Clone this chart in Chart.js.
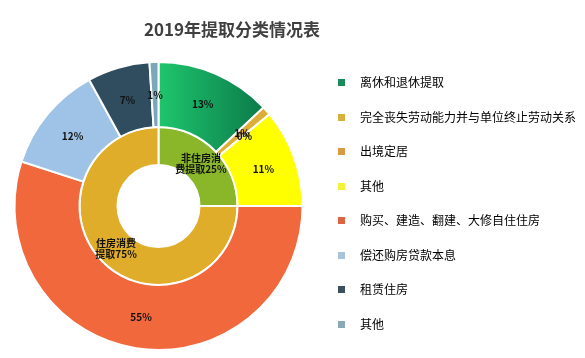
<!DOCTYPE html>
<html><head><meta charset="utf-8">
<script src="https://cdn.jsdelivr.net/npm/chart.js@4/dist/chart.umd.min.js"></script>
<style>
html,body{margin:0;padding:0;background:#fff;}
#wrap{position:relative;width:585px;height:358px;overflow:hidden;}
#title{position:absolute;left:0;width:464px;top:17px;text-align:center;font:bold 17px "Noto Sans CJK SC","Noto Sans",sans-serif;color:#404040;line-height:24px;}
canvas{position:absolute;left:0;top:0;}
</style></head><body>
<div id="wrap"><canvas id="c" width="585" height="358"></canvas><div id="title"></div></div>
<script>
const chartTitle = '2019年提取分类情况表';
const outerLabels = ['离休和退休提取','完全丧失劳动能力并与单位终止劳动关系','出境定居','其他','购买、建造、翻建、大修自住住房','偿还购房贷款本息','租赁住房','其他'];
const outerValues = [13, 1, 0, 11, 55, 12, 7, 1];
const outerColors = ['#17a862','#dcae36','#e09a40','#ffff00','#f0683b','#9fc3e6','#2f4d5f','#7ba8b9'];
const innerLabels = ['非住房消费提取','住房消费提取'];
const innerValues = [25, 75];
const innerColors = ['#8ab62a','#e0ad2b'];
const legendColors = ['#1b8a5b','#d8b13c','#da9942','#f2f23a','#dd6440','#a9c3d8','#3b4f5c','#8aa8b6'];

document.getElementById('title').textContent = chartTitle;

function boxImage(color){
  const cv = document.createElement('canvas');
  cv.width = 28; cv.height = 7;
  const g = cv.getContext('2d');
  g.fillStyle = color;
  g.fillRect(12, 0, 7, 7);
  return cv;
}

const FONT = '"Noto Sans CJK SC","Noto Sans",sans-serif';

const sliceLabels = {
  id: 'sliceLabels',
  afterDatasetsDraw(chart){
    const ctx = chart.ctx;
    ctx.save();
    ctx.fillStyle = '#111';
    ctx.textAlign = 'center';
    ctx.textBaseline = 'middle';
    chart.data.datasets.forEach((ds, di) => {
      const meta = chart.getDatasetMeta(di);
      meta.data.forEach((arc, i) => {
        const p = arc.getProps(['x','y','startAngle','endAngle','innerRadius','outerRadius'], true);
        const a = (p.startAngle + p.endAngle) / 2;
        const r = (p.innerRadius + p.outerRadius) / 2;
        const x = p.x + Math.cos(a) * r;
        const y = p.y + Math.sin(a) * r;
        ctx.font = 'bold 10px ' + FONT;
        if (di === 0) {
          ctx.fillText(ds.data[i] + '%', x, y + 1);
        } else {
          const txt = innerLabels[i] + ds.data[i] + '%';
          ctx.fillText(txt.slice(0, 4), x, y - 5);
          ctx.fillText(txt.slice(4), x, y + 6);
        }
      });
    });
    ctx.restore();
  }
};

function greenFill(c){
  const chart = c.chart;
  const area = chart.chartArea;
  if (!area) return outerColors[0];
  const cx = (area.left + area.right) / 2;
  const g = chart.ctx.createLinearGradient(cx, 0, cx + 105, 0);
  g.addColorStop(0, '#1ec66d');
  g.addColorStop(1, '#0c7a4a');
  return g;
}

new Chart(document.getElementById('c'), {
  type: 'doughnut',
  data: {
    labels: outerLabels,
    datasets: [
      {
        data: outerValues,
        backgroundColor: (c) => (c.dataIndex === 0 ? greenFill(c) : outerColors[c.dataIndex]),
        borderColor: '#ffffff',
        borderWidth: 2,
        weight: 65
      },
      {
        data: innerValues,
        backgroundColor: innerColors,
        borderColor: '#ffffff',
        borderWidth: 2,
        weight: 38
      }
    ]
  },
  options: {
    responsive: false,
    animation: false,
    cutout: 41,
    layout: { padding: { top: 54, bottom: 0, left: 13.5, right: 0 } },
    plugins: {
      tooltip: { enabled: false },
      title: { display: false },
      legend: {
        position: 'right',
        align: 'start',
        maxWidth: 281.5,
        labels: {
          usePointStyle: true,
          pointStyleWidth: 28,
          boxHeight: 12,
          padding: 22.5,
          color: '#333333',
          font: { size: 12, family: FONT },
          generateLabels: () => outerLabels.map((t, i) => ({
            text: t,
            fillStyle: legendColors[i],
            strokeStyle: legendColors[i],
            lineWidth: 0,
            pointStyle: boxImage(legendColors[i]),
            hidden: false,
            index: i
          }))
        }
      }
    }
  },
  plugins: [sliceLabels]
});
</script>
</body></html>
